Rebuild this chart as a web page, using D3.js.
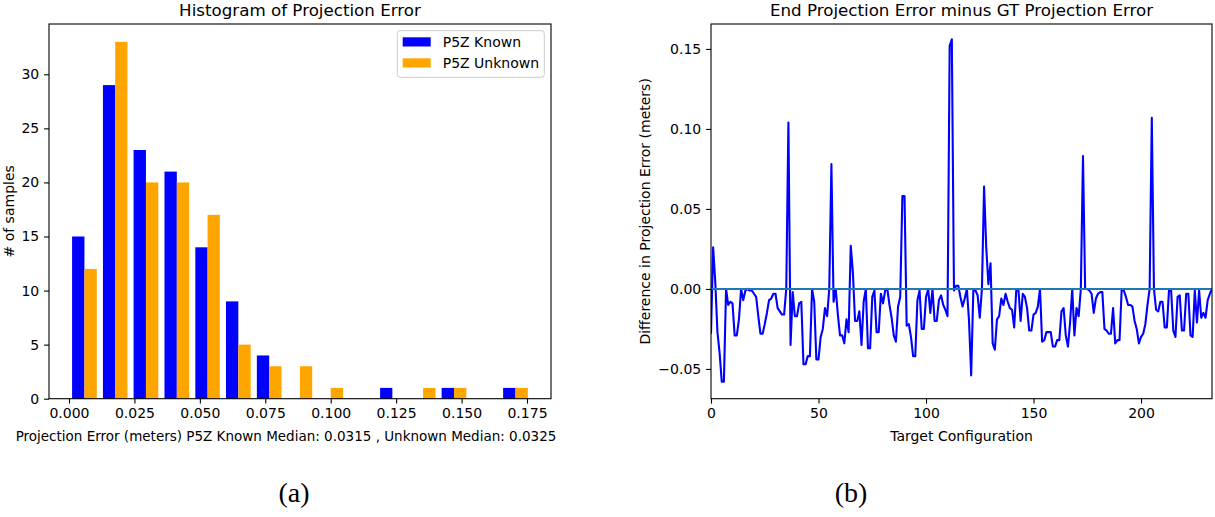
<!DOCTYPE html>
<html><head><meta charset="utf-8">
<script src="https://cdn.jsdelivr.net/npm/d3@7"></script>
<style>
body{margin:0;background:#fff}
svg{display:block}
text{font-family:"DejaVu Sans",sans-serif;fill:#000}
</style>
</head><body>
<svg id="c" width="1215" height="517"></svg>
<script>
// ---------- data: histogram ----------
const binEdges = [0.0000,0.0118,0.0235,0.0353,0.0471,0.0588,0.0706,0.0824,0.0941,0.1059,0.1177,0.1294,0.1412,0.1530,0.1647,0.1765];
const knownCounts   = [15,29,23,21,14,9,4,0,0,0,1,0,1,0,1];
const unknownCounts = [12,33,20,20,17,5,3,3,1,0,0,1,1,0,1];
const seriesNames = ["P5Z Known","P5Z Unknown"];
const histXTicks = [0,0.025,0.05,0.075,0.1,0.125,0.15,0.175];
const histYTicks = [0,5,10,15,20,25,30];
const histTitle = "Histogram of Projection Error";
const histXLabel = "Projection Error (meters) P5Z Known Median: 0.0315 , Unknown Median: 0.0325";
const histYLabel = "# of samples";

// ---------- data: difference line ----------
const diffValues = [
-0.028,0.026,0.004,-0.027,-0.040,-0.058,-0.058,0.000,-0.010,-0.008,
-0.009,-0.029,-0.029,-0.019,0.000,-0.007,-0.001,0.000,-0.001,-0.001,
-0.003,-0.005,-0.017,-0.028,-0.028,-0.022,-0.015,-0.007,-0.006,-0.003,
-0.003,-0.012,-0.014,-0.016,-0.016,0.000,0.104,-0.035,-0.002,-0.017,
-0.017,-0.009,-0.008,-0.047,-0.047,-0.042,-0.042,0.000,-0.008,-0.044,
-0.044,-0.030,-0.025,-0.012,-0.017,0.000,0.078,-0.008,0.000,-0.016,
-0.029,-0.029,-0.034,-0.019,-0.027,0.027,0.010,-0.020,-0.020,-0.014,
-0.035,-0.008,0.000,-0.037,-0.037,-0.005,-0.001,-0.027,-0.027,-0.003,
-0.009,-0.001,0.000,-0.010,-0.018,-0.029,-0.033,-0.011,-0.005,0.058,
0.058,-0.023,-0.022,-0.030,-0.042,-0.042,-0.007,-0.001,-0.025,-0.025,
-0.005,0.000,-0.015,0.000,-0.020,-0.020,-0.007,-0.004,-0.010,-0.013,
-0.017,0.152,0.156,-0.001,0.002,0.002,-0.005,-0.011,-0.006,0.000,
-0.020,-0.054,-0.001,-0.001,-0.004,-0.018,0.000,0.064,0.026,0.003,
0.016,-0.034,-0.038,-0.019,-0.017,-0.006,-0.010,-0.003,-0.008,-0.012,
-0.013,-0.024,0.000,-0.001,-0.020,-0.003,-0.005,-0.012,-0.026,-0.026,
-0.016,-0.015,-0.011,0.000,-0.033,-0.032,-0.027,-0.027,-0.027,-0.036,
-0.036,-0.032,-0.032,-0.014,-0.012,-0.029,-0.036,-0.021,0.000,-0.029,
-0.012,-0.017,0.000,0.083,0.000,0.000,-0.001,-0.003,-0.015,-0.006,
-0.003,-0.002,-0.002,-0.025,-0.026,-0.028,-0.028,-0.012,-0.034,-0.032,
-0.032,0.000,-0.001,-0.005,-0.010,-0.010,-0.011,-0.020,-0.025,-0.034,
-0.030,-0.028,-0.022,-0.010,0.000,0.107,0.000,-0.013,-0.014,-0.008,
-0.008,-0.024,-0.024,-0.001,-0.001,-0.026,-0.030,-0.005,-0.004,-0.026,
-0.026,-0.003,-0.003,-0.029,-0.030,-0.001,-0.021,-0.001,-0.018,-0.015,
-0.018,-0.007,-0.003,0.000];
const diffXTicks = [0,50,100,150,200];
const diffYTicks = [-0.05,0,0.05,0.10,0.15];
const diffTitle = "End Projection Error minus GT Projection Error";
const diffXLabel = "Target Configuration";
const diffYLabel = "Difference in Projection Error (meters)";
const captions = ["(a)","(b)"];

// ---------- styling ----------
const FS = 14, TFS = 16.7, TICK = 4.9, PAD = 4.9;
const BLUE = "#0000ff", ORANGE = "#ffa500", ZERO = "#1f77b4";
const svg = d3.select("#c");

function styleAxis(g){
  g.select(".domain").remove();
  g.selectAll(".tick line").attr("stroke","#000").attr("stroke-width",1.1);
  g.selectAll(".tick text").attr("font-size",FS).attr("font-family","DejaVu Sans").attr("fill","#000");
}

// ================= LEFT: histogram =================
const L = {x0:49, x1:551, y0:24, y1:398.7};
const hx = d3.scaleLinear().domain([-0.00764,0.18417]).range([L.x0,L.x1]);
const hy = d3.scaleLinear().domain([0,34.65]).range([L.y1,L.y0]);
const gL = svg.append("g");

const bins = knownCounts.map((k,i)=>({lo:binEdges[i],hi:binEdges[i+1],k:k,u:unknownCounts[i]}));
const gb = gL.append("g");
bins.forEach(b=>{
  const w = b.hi-b.lo;
  if(b.k>0) gb.append("rect").attr("x",hx(b.lo+0.1*w)).attr("width",hx(b.lo+0.5*w)-hx(b.lo+0.1*w))
      .attr("y",hy(b.k)).attr("height",hy(0)-hy(b.k)).attr("fill",BLUE);
  if(b.u>0) gb.append("rect").attr("x",hx(b.lo+0.5*w)).attr("width",hx(b.lo+0.9*w)-hx(b.lo+0.5*w))
      .attr("y",hy(b.u)).attr("height",hy(0)-hy(b.u)).attr("fill",ORANGE);
});

gL.append("g").attr("transform",`translate(0,${L.y1})`)
  .call(d3.axisBottom(hx).tickValues(histXTicks).tickFormat(d3.format(".3f")).tickSize(TICK).tickPadding(PAD))
  .call(styleAxis);
gL.append("g").attr("transform",`translate(${L.x0},0)`)
  .call(d3.axisLeft(hy).tickValues(histYTicks).tickFormat(d3.format("d")).tickSize(TICK).tickPadding(PAD))
  .call(styleAxis);
gL.append("rect").attr("x",L.x0).attr("y",L.y0).attr("width",L.x1-L.x0).attr("height",L.y1-L.y0)
  .attr("fill","none").attr("stroke","#000").attr("stroke-width",1.1);

gL.append("text").attr("x",(L.x0+L.x1)/2).attr("y",16).attr("text-anchor","middle").attr("font-size",TFS).text(histTitle);
gL.append("text").attr("x",286).attr("y",441).attr("text-anchor","middle").attr("font-size",13.5).text(histXLabel);
gL.append("text").attr("transform",`translate(14,${(L.y0+L.y1)/2}) rotate(-90)`).attr("text-anchor","middle").attr("font-size",FS).text(histYLabel);

// legend
const lg = gL.append("g");
lg.append("rect").attr("x",397.3).attr("y",30.7).attr("width",147).attr("height",46.6).attr("rx",3)
  .attr("fill","#fff").attr("fill-opacity",0.8).attr("stroke","#cccccc").attr("stroke-width",1);
[BLUE,ORANGE].forEach((c,i)=>{
  lg.append("rect").attr("x",402.7).attr("y",37.3+i*21).attr("width",28).attr("height",9.2).attr("fill",c);
  lg.append("text").attr("x",442.7).attr("y",46.6+i*21).attr("font-size",FS).text(seriesNames[i]);
});

// ================= RIGHT: line =================
const R = {x0:711, x1:1212, y0:24, y1:398.7};
const rx = d3.scaleLinear().domain([0,233]).range([R.x0,R.x1]);
const ry = d3.scaleLinear().domain([-0.0686,0.1656]).range([R.y1,R.y0]);
const gR = svg.append("g");
gR.append("defs").append("clipPath").attr("id","clipR").append("rect")
  .attr("x",R.x0).attr("y",R.y0).attr("width",R.x1-R.x0).attr("height",R.y1-R.y0);

gR.append("path").datum(diffValues).attr("clip-path","url(#clipR)")
  .attr("d",d3.line().x((d,i)=>rx(i)).y(d=>ry(d)))
  .attr("fill","none").attr("stroke",BLUE).attr("stroke-width",2.1).attr("stroke-linejoin","round");
gR.append("line").attr("x1",rx(0)).attr("x2",rx(233)).attr("y1",ry(0)).attr("y2",ry(0))
  .attr("stroke",ZERO).attr("stroke-width",2);

gR.append("g").attr("transform",`translate(0,${R.y1})`)
  .call(d3.axisBottom(rx).tickValues(diffXTicks).tickFormat(d3.format("d")).tickSize(TICK).tickPadding(PAD))
  .call(styleAxis);
gR.append("g").attr("transform",`translate(${R.x0},0)`)
  .call(d3.axisLeft(ry).tickValues(diffYTicks).tickFormat(d3.format(".2f")).tickSize(TICK).tickPadding(PAD))
  .call(styleAxis);
gR.append("rect").attr("x",R.x0).attr("y",R.y0).attr("width",R.x1-R.x0).attr("height",R.y1-R.y0)
  .attr("fill","none").attr("stroke","#000").attr("stroke-width",1.1);

gR.append("text").attr("x",(R.x0+R.x1)/2).attr("y",16).attr("text-anchor","middle").attr("font-size",TFS).text(diffTitle);
gR.append("text").attr("x",(R.x0+R.x1)/2).attr("y",441).attr("text-anchor","middle").attr("font-size",FS).text(diffXLabel);
gR.append("text").attr("transform",`translate(650,${(R.y0+R.y1)/2}) rotate(-90)`).attr("text-anchor","middle").attr("font-size",FS).text(diffYLabel);

// captions
[[294,captions[0]],[851,captions[1]]].forEach(([x,t])=>{
  svg.append("text").attr("x",x).attr("y",502).attr("text-anchor","middle")
    .style("font-family","'Liberation Serif',serif").attr("font-size",28).text(t);
});
</script>
</body></html>
